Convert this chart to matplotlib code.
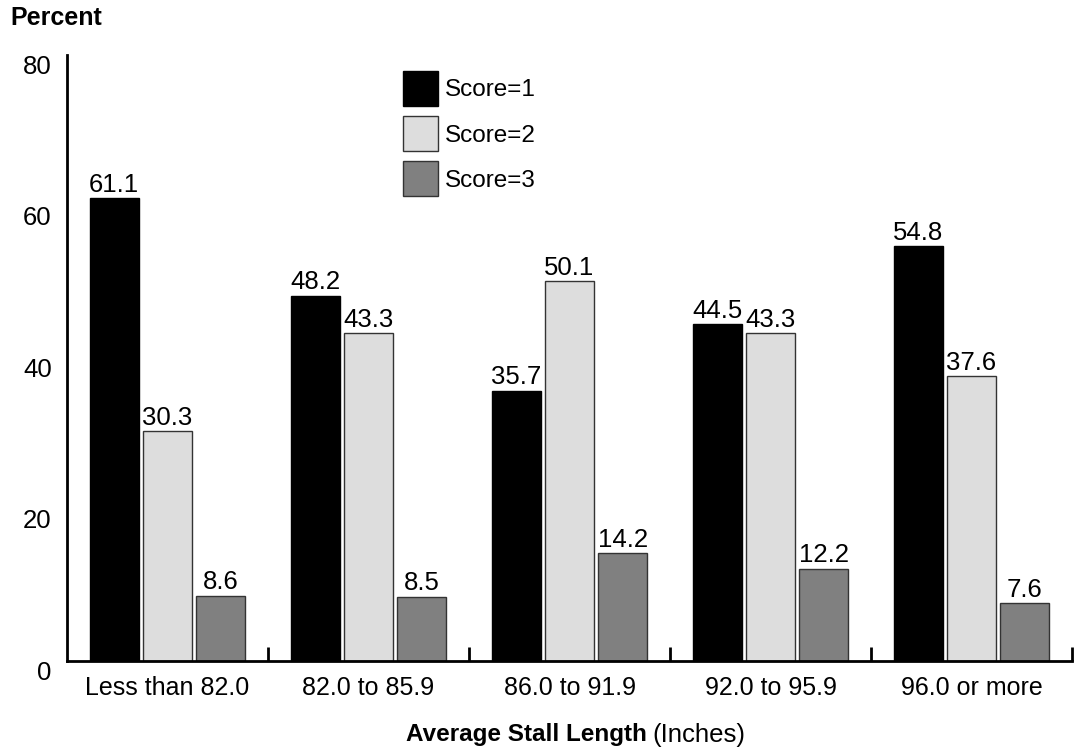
import numpy as np
import matplotlib
matplotlib.use("Agg")
import matplotlib.pyplot as plt
from matplotlib.transforms import ScaledTranslation

plt.rcParams["font.family"] = ["Liberation Sans", "DejaVu Sans"]

categories = ["Less than 82.0", "82.0 to 85.9", "86.0 to 91.9", "92.0 to 95.9", "96.0 or more"]
score1 = [61.1, 48.2, 35.7, 44.5, 54.8]
score2 = [30.3, 43.3, 50.1, 43.3, 37.6]
score3 = [8.6, 8.5, 14.2, 12.2, 7.6]
series_names = ["Score=1", "Score=2", "Score=3"]
y_ticks = [0, 20, 40, 60, 80]


def main():
    fig = plt.figure(figsize=(10.79, 7.52), dpi=100)
    ax = fig.add_axes([67 / 1079, 1 - 661 / 752, (1072 - 67) / 1079, (661 - 55) / 752])

    x = np.arange(len(categories))
    width = 0.245
    step = 0.265
    colors = ["#000000", "#dddddd", "#808080"]
    edges = ["#000000", "#333333", "#333333"]

    for i, (vals, name) in enumerate(zip([score1, score2, score3], series_names)):
        bars = ax.bar(x + (i - 1) * step, vals, width, color=colors[i],
                      edgecolor=edges[i], linewidth=1, label=name)
        ax.bar_label(bars, labels=[f"{v:.1f}" for v in vals], padding=1, fontsize=18.5)

    ax.set_xlim(-0.5, len(categories) - 0.5)
    ax.set_ylim(0, 80)

    for side in ["top", "right"]:
        ax.spines[side].set_visible(False)
    ax.spines["left"].set_linewidth(2)
    ax.spines["bottom"].set_linewidth(2)

    ax.set_xticks(x)
    ax.set_xticklabels(categories, fontsize=18)
    ax.set_xticks(np.arange(0.5, len(categories), 1), minor=True)
    ax.tick_params(axis="x", which="major", length=0, pad=11)
    ax.tick_params(axis="x", which="minor", direction="in", length=10, width=2)

    ax.set_yticks(y_ticks)
    ax.set_yticklabels([str(t) for t in y_ticks], fontsize=18.5)
    ax.tick_params(axis="y", length=0, pad=11)
    offset = ScaledTranslation(0, -9 / 100, fig.dpi_scale_trans)
    for lbl in ax.get_yticklabels():
        lbl.set_transform(lbl.get_transform() + offset)

    ax.legend(loc="upper left", bbox_to_anchor=(336 / 1005, 1.0 - 16 / 606),
              frameon=False, fontsize=17.5, handlelength=1.44, handleheight=1.86,
              handletextpad=0.3, labelspacing=0.4, borderaxespad=0, borderpad=0)

    fig.text(10 / 1079, 1 - 18 / 752, "Percent", fontsize=18, fontweight="bold", va="center")
    fig.text(647 / 1079, 1 - 735 / 752, "Average Stall Length", fontsize=17.5,
             fontweight="bold", ha="right", va="center")
    fig.text(652 / 1079, 1 - 735 / 752, "(Inches)", fontsize=18.5, ha="left", va="center")

    fig.savefig("out.png", dpi=100)


if __name__ == "__main__":
    main()
